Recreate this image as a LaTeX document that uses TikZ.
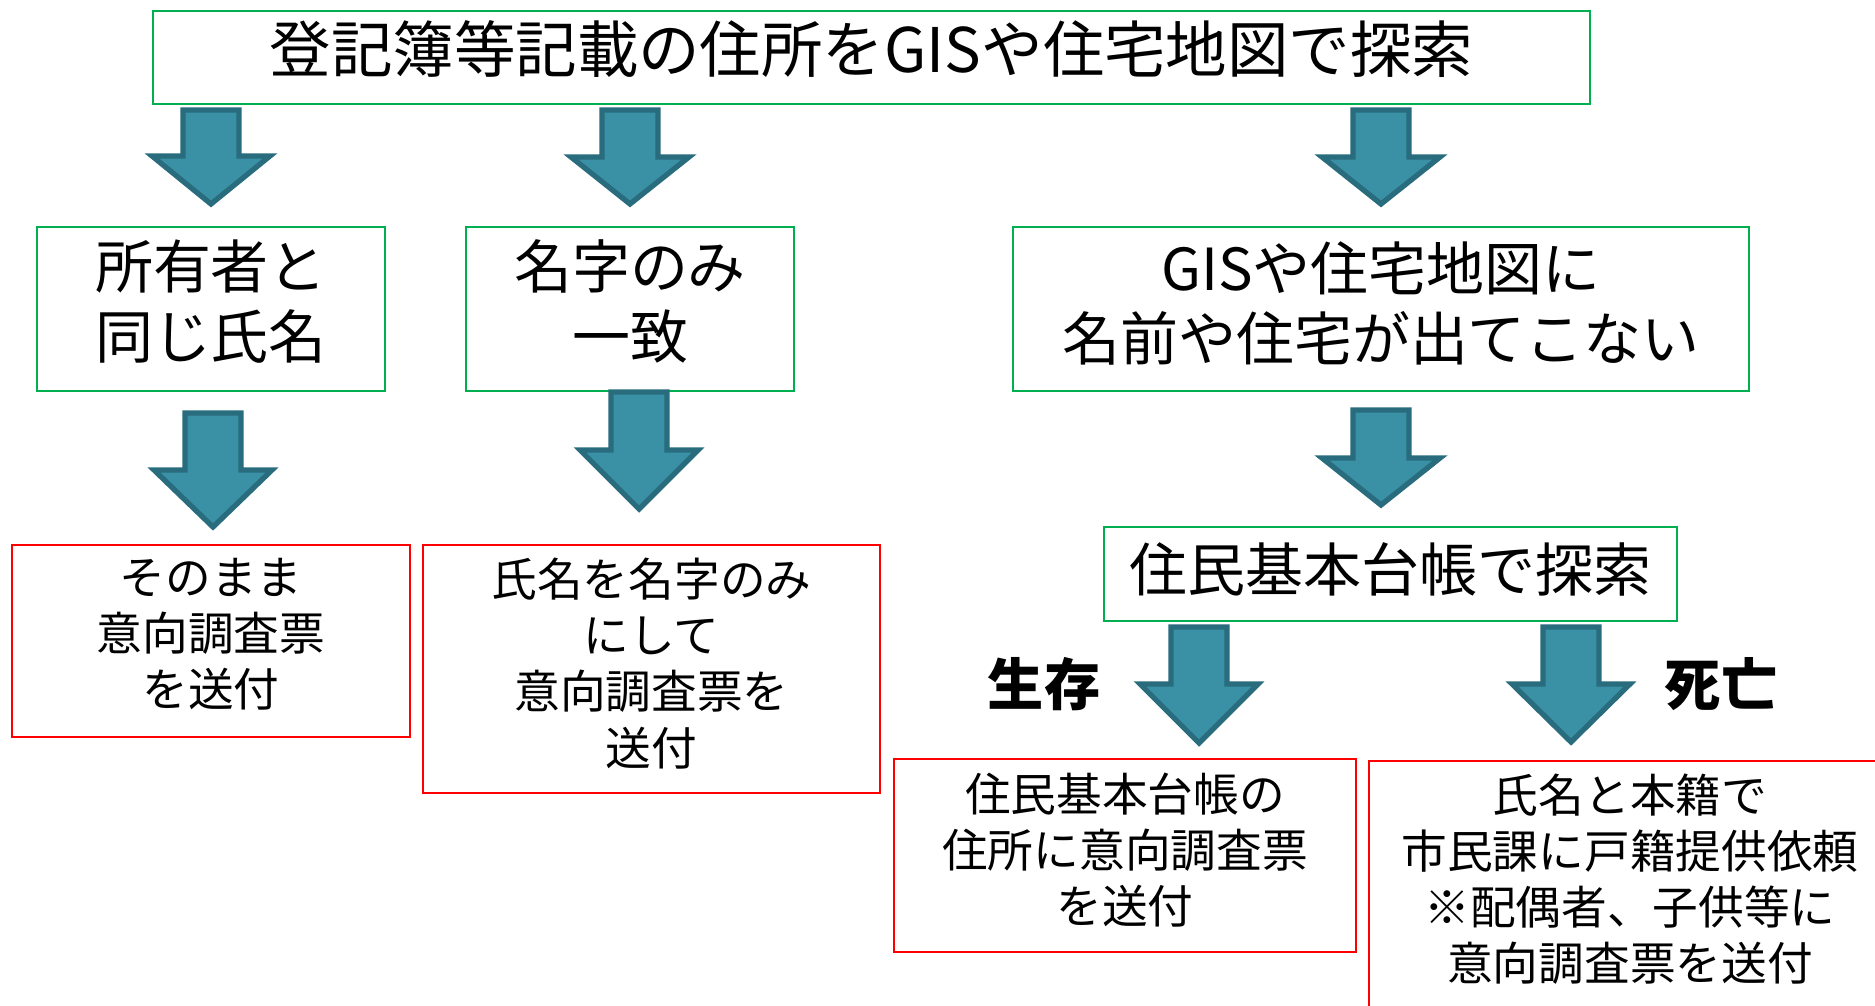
\documentclass[tikz,border=0pt]{standalone}
\usepackage{fontspec}
\setmainfont{Noto Sans CJK JP}
\usepackage{tikz}
\definecolor{FlowGreen}{HTML}{00B050}
\definecolor{FlowRed}{HTML}{FF0000}
\definecolor{ArrowFill}{HTML}{3A91A6}
\definecolor{ArrowEdge}{HTML}{286C7D}

\tikzset{
  greenbox/.style={draw=FlowGreen,line width=1.2pt,align=center,inner sep=0pt,
    font=\fontsize{33}{40}\selectfont},
  redbox/.style={draw=FlowRed,line width=1.2pt,align=center,inner sep=0pt,
    font=\fontsize{26}{32}\selectfont},
  blockarrow/.style={draw=ArrowEdge,fill=ArrowFill,line width=3pt,line join=miter},
  verdict/.style={font=\fontsize{32}{36}\selectfont\bfseries}
}
% centre x, top, neck, tip
\newcommand{\flowarrow}[4]{%
  \draw[blockarrow] (#1-28,#2) -- (#1+28,#2) -- (#1+28,#3) -- (#1+59,#3)
    -- (#1,#4) -- (#1-59,#3) -- (#1-28,#3) -- cycle;}

\begin{document}
\begin{tikzpicture}[x=0.02cm,y=-0.02cm]
  \useasboundingbox (0,0) rectangle (1875,1005);
  \clip (0,0) rectangle (1875,1005);

  % search step
  \node[greenbox,text width=28.74cm,text height=1.22cm,text depth=0.64cm,
    font=\fontsize{35}{40}\selectfont] (search) at (871.5,57.5)
    {登記簿等記載の住所をGISや住宅地図で探索};

  \node[greenbox,text width=6.96cm,text height=1.22cm,text depth=2.06cm] (fullname) at (211,309)
    {所有者と\\同じ氏名};
  \node[greenbox,text width=6.56cm,text height=1.22cm,text depth=2.06cm] (surname) at (630,309)
    {名字のみ\\一致};
  \node[greenbox,text width=14.72cm,text height=1.26cm,text depth=2.02cm] (notfound) at (1381,309)
    {GISや住宅地図に\\名前や住宅が出てこない};
  \node[greenbox,text width=11.46cm,text height=1.28cm,text depth=0.6cm] (register) at (1390.5,574)
    {住民基本台帳で探索};

  % results
  \node[redbox,text width=7.96cm,text height=0.99cm,text depth=2.85cm] (sendasis) at (211,641)
    {そのまま\\意向調査票\\を送付};
  \node[redbox,text width=9.14cm,text height=1.03cm,text depth=3.93cm] (sendsurname) at (651.5,669)
    {氏名を名字のみ\\にして\\意向調査票を\\送付};
  \node[redbox,text width=9.24cm,text height=1.05cm,text depth=2.81cm] (sendaddress) at (1125,855.5)
    {住民基本台帳の\\住所に意向調査票\\を送付};
  \node[redbox,anchor=north west,text width=10.44cm,text height=1.02cm,
    text depth=5cm] (koseki) at (1368,760)
    {氏名と本籍で\\市民課に戸籍提供依頼\\※配偶者、子供等に\\意向調査票を送付};

  \node[verdict] (alive) at (1044,684) {生存};
  \node[verdict] (dead) at (1721,684) {死亡};

  % arrows
  \flowarrow{211}{110}{156}{204}
  \flowarrow{630}{110}{157}{204}
  \flowarrow{1381}{110}{157}{204}
  \flowarrow{213}{413}{470}{527}
  \flowarrow{639}{392}{450}{509}
  \flowarrow{1381}{410}{458}{505}
  \flowarrow{1199}{627}{684}{743}
  \flowarrow{1571}{627}{684}{742}
\end{tikzpicture}
\end{document}
